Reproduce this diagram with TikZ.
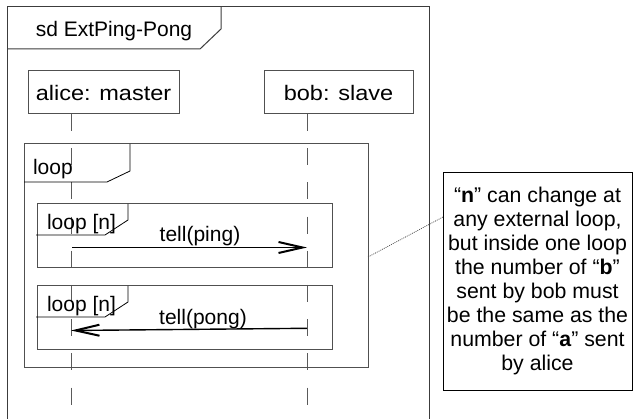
\documentclass[tikz,border=0pt]{standalone}
\usepackage{fontspec}
\setmainfont{Liberation Sans}
\newfontfamily\widefont[FakeStretch=1.12]{Liberation Sans}
\usetikzlibrary{arrows.meta}
\definecolor{framegray}{RGB}{60,60,60}
\definecolor{boxgray}{RGB}{80,80,80}
\definecolor{lifegray}{RGB}{90,90,90}
\begin{document}
\begin{tikzpicture}[x=1pt,y=-1pt,
  every node/.style={inner sep=0pt, outer sep=0pt},
  lbl/.style={font=\fontsize{21}{24}\selectfont},
  partbox/.style={draw=boxgray, line width=1pt, minimum width=151pt, minimum height=43pt, font=\widefont\fontsize{21}{24}\selectfont},
  fragbox/.style={draw=boxgray, line width=1pt},
  fraglabel/.style={draw=black, line width=0.8pt},
  lifeline/.style={draw=lifegray, line width=1pt, dash pattern=on 17pt off 17.2pt},
  msg/.style={draw=black, line width=1.4pt, -{Straight Barb[length=24pt, width=11pt, line width=2pt]}},
  notebox/.style={draw=black, line width=0.9pt, minimum width=189pt, minimum height=218pt, align=center, font=\fontsize{21.3}{23.9}\selectfont},
  noteline/.style={draw=black!70, line width=0.7pt, dash pattern=on 1pt off 1pt}]
\useasboundingbox (0,0) rectangle (633,419);
\fill[white] (0,0) rectangle (633,419);
% sd frame
\draw[framegray, line width=1pt] (7,419) -- (7,7) -- (429,7) -- (429,419);
\draw[framegray, line width=1pt] (7,49) -- (200,49) -- (221,29) -- (221,7);
\node[lbl, anchor=base] (title) at (114,37) {sd ExtPing-Pong};
% participants
\node[partbox] (alice) at (103.5,92.5) {alice: master};
\node[partbox, minimum width=149pt] (bob) at (338.5,92.5) {bob: slave};
\coordinate (aEnd) at (71,405);
\coordinate (bEnd) at (307,405);
\draw[lifeline] (alice.south -| aEnd) -- (aEnd);
\draw[lifeline] (bob.south -| bEnd) -- (bEnd);
% outer loop
\draw[fragbox] (24,144) rectangle (368,368);
\draw[fraglabel] (24,182) -- (107,182) -- (130,171) -- (130,144);
\node[lbl, anchor=base west] (loopA) at (33,175) {loop};
% inner loop 1
\draw[fragbox] (37,204) rectangle (332,268);
\draw[fraglabel] (36,235) -- (105,235) -- (128,220) -- (128,204);
\node[lbl, anchor=base west] (loopB) at (47,230) {loop [n]};
\coordinate (pingS) at (72,247.5);
\coordinate (pingE) at (307,247.5);
\draw[msg] (pingS) -- (pingE);
\node[lbl, anchor=base] (ping) at (200,242) {tell(ping)};
% inner loop 2
\draw[fragbox] (37,286) rectangle (332,350);
\draw[fraglabel] (36,317) -- (105,317) -- (128,302) -- (128,286);
\node[lbl, anchor=base west] (loopC) at (47,312) {loop [n]};
\coordinate (pongS) at (307,328.3);
\coordinate (pongE) at (71,330.5);
\draw[msg] (pongS) -- (pongE);
\node[lbl, anchor=base] (pong) at (203,325) {tell(pong)};
% note
\node[notebox] (note) at (537.5,281) {“\textbf{n}” can change at\\any external loop,\\but inside one loop\\the number of “\textbf{b}”\\sent by bob must\\be the same as the\\number of “\textbf{a}” sent\\by alice};
\coordinate (loopR) at (368,257);
\draw[noteline] (loopR) -- ([yshift=64pt]note.west);
\end{tikzpicture}
\end{document}
